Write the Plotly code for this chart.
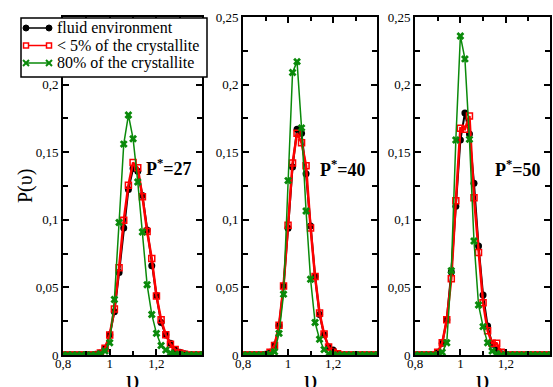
import plotly.graph_objects as go

# Speed grid (0.80 ... 1.40, step 0.02)
v = [round(0.80 + 0.02 * k, 2) for k in range(31)]

def series(pairs):
    d = dict(pairs)
    return [d.get(x, 0.0) for x in v]

# P* = 27
fluid_27 = series({0.94: 0.0005, 0.96: 0.0015, 0.98: 0.005, 1.00: 0.015, 1.02: 0.032, 1.04: 0.061,
                   1.06: 0.094, 1.08: 0.1225, 1.10: 0.138, 1.12: 0.136, 1.14: 0.118, 1.16: 0.0925,
                   1.18: 0.066, 1.20: 0.044, 1.22: 0.024, 1.24: 0.0148, 1.26: 0.0087, 1.28: 0.0037,
                   1.30: 0.002, 1.32: 0.001})
small_27 = series({0.96: 0.0015, 0.98: 0.005, 1.00: 0.0148, 1.02: 0.034, 1.04: 0.0646, 1.06: 0.0996,
                   1.08: 0.1256, 1.10: 0.1423, 1.12: 0.1385, 1.14: 0.117, 1.16: 0.0914, 1.18: 0.0713,
                   1.20: 0.0437, 1.22: 0.026, 1.24: 0.015, 1.26: 0.008, 1.28: 0.004, 1.30: 0.0015,
                   1.32: 0.0005})
large_27 = series({0.96: 0.001, 0.98: 0.003, 1.00: 0.009, 1.02: 0.041, 1.04: 0.098, 1.06: 0.156,
                   1.08: 0.1775, 1.10: 0.160, 1.12: 0.128, 1.14: 0.091, 1.16: 0.052, 1.18: 0.03,
                   1.20: 0.016, 1.22: 0.007, 1.24: 0.0037, 1.26: 0.0015, 1.28: 0.0005})

# P* = 40
fluid_40 = series({0.90: 0.0005, 0.92: 0.002, 0.94: 0.0074, 0.96: 0.0217, 0.98: 0.051, 1.00: 0.0937,
                   1.02: 0.139, 1.04: 0.167, 1.06: 0.164, 1.08: 0.134, 1.10: 0.0954, 1.12: 0.058,
                   1.14: 0.030, 1.16: 0.015, 1.18: 0.006, 1.20: 0.0037, 1.22: 0.001})
small_40 = series({0.92: 0.002, 0.94: 0.007, 0.96: 0.022, 0.98: 0.051, 1.00: 0.096, 1.02: 0.142,
                   1.04: 0.164, 1.06: 0.157, 1.08: 0.140, 1.10: 0.094, 1.12: 0.058, 1.14: 0.031,
                   1.16: 0.0155, 1.18: 0.006, 1.20: 0.002, 1.22: 0.001})
large_40 = series({0.92: 0.0005, 0.94: 0.0024, 0.96: 0.016, 0.98: 0.045, 1.00: 0.129, 1.02: 0.209,
                   1.04: 0.217, 1.06: 0.168, 1.08: 0.1065, 1.10: 0.056, 1.12: 0.024, 1.14: 0.0116,
                   1.16: 0.004, 1.18: 0.001})

# P* = 50
fluid_50 = series({0.90: 0.002, 0.92: 0.0086, 0.94: 0.026, 0.96: 0.0614, 0.98: 0.11, 1.00: 0.159,
                   1.02: 0.179, 1.04: 0.1635, 1.06: 0.127, 1.08: 0.0806, 1.10: 0.0444, 1.12: 0.0214,
                   1.14: 0.008, 1.16: 0.004, 1.18: 0.001})
small_50 = series({0.90: 0.002, 0.92: 0.009, 0.94: 0.026, 0.96: 0.0564, 0.98: 0.114, 1.00: 0.1677,
                   1.02: 0.167, 1.04: 0.1768, 1.06: 0.1164, 1.08: 0.0759, 1.10: 0.0387, 1.12: 0.018,
                   1.14: 0.0086, 1.16: 0.0086, 1.18: 0.002})
large_50 = series({0.92: 0.002, 0.94: 0.009, 0.96: 0.0624, 0.98: 0.159, 1.00: 0.236, 1.02: 0.219,
                   1.04: 0.1595, 1.06: 0.0843, 1.08: 0.037, 1.10: 0.021, 1.12: 0.009, 1.14: 0.003,
                   1.16: 0.001})

pressures = ["27", "40", "50"]
panels = [(fluid_27, small_27, large_27), (fluid_40, small_40, large_40), (fluid_50, small_50, large_50)]
names = ["fluid environment", "< 5% of the crystallite", "80% of the crystallite"]

x_ticks = [0.8, 1.0, 1.2]
x_ticktext = ["0,8", "1", "1,2"]
y_ticks = [0, 0.05, 0.1, 0.15, 0.2, 0.25]
y_ticktext = ["0", "0,05", "0,1", "0,15", "0,2", "0,25"]

W, H = 553, 387
SERIF = "Liberation Serif"
GREEN = "#0a8a0a"

def px(x):
    return x / W

def py(y):
    return 1 - y / H

styles = [
    dict(line=dict(color="black", width=2),
         marker=dict(symbol="circle", size=7, color="black")),
    dict(line=dict(color="red", width=2.5),
         marker=dict(symbol="square-open", size=6, color="red", line=dict(width=1.5, color="red"))),
    dict(line=dict(color=GREEN, width=1.5),
         marker=dict(symbol="x", size=7, color=GREEN, line=dict(width=0))),
]

x_domains_px = [(63, 202), (243, 377), (415, 550)]
y_domain = [py(355), py(17)]

fig = go.Figure()
for i, (series_set, p) in enumerate(zip(panels, pressures)):
    ax = "" if i == 0 else str(i + 1)
    for j, ys in enumerate(series_set):
        fig.add_trace(go.Scatter(
            x=v, y=ys, mode="lines+markers", name=names[j],
            xaxis="x" + ax, yaxis="y" + ax, showlegend=False, **styles[j]))

    # the top label of the first panel sits under the legend box
    ylabels = list(y_ticktext)
    if i == 0:
        ylabels[-1] = ""

    fig.layout["xaxis" + ax] = dict(
        range=[0.8, 1.395], tickvals=x_ticks, ticktext=x_ticktext,
        ticks="inside", ticklen=6, tickwidth=1.5, tickcolor="black",
        minor=dict(dtick=0.1, tick0=0.8, ticks="inside", ticklen=4,
                   tickwidth=1.5, tickcolor="black"),
        showline=True, linewidth=2, linecolor="black", mirror="allticks",
        showgrid=False, zeroline=False, automargin=False, ticklabelstandoff=-5,
        tickfont=dict(family=SERIF, size=13, color="black"),
        domain=[px(x_domains_px[i][0]), px(x_domains_px[i][1])],
        anchor="y" + ax)
    fig.layout["yaxis" + ax] = dict(
        range=[0, 0.25], tickvals=y_ticks, ticktext=ylabels,
        ticks="inside", ticklen=6, tickwidth=1.5, tickcolor="black",
        minor=dict(dtick=0.025, tick0=0, ticks="inside", ticklen=5,
                   tickwidth=1.5, tickcolor="black"),
        showline=True, linewidth=2, linecolor="black", mirror="allticks",
        showgrid=False, zeroline=False, automargin=False,
        tickfont=dict(family=SERIF, size=13, color="black"),
        domain=y_domain, anchor="x" + ax)

    cx = (x_domains_px[i][0] + x_domains_px[i][1]) / 2
    fig.add_annotation(text="υ", xref="paper", yref="paper", x=px(cx), y=py(380),
                       xanchor="center", yanchor="middle", showarrow=False,
                       font=dict(family=SERIF, size=27, color="black"))

label_pos = [(169, 167), (343, 168), (518, 168)]
for (lx, ly), p in zip(label_pos, pressures):
    fig.add_annotation(text="<b>P<sup>*</sup>=" + p + "</b>", xref="paper", yref="paper",
                       x=px(lx), y=py(ly), xanchor="center", yanchor="middle",
                       showarrow=False, font=dict(family=SERIF, size=18, color="black"))

fig.add_annotation(text="P(υ)", xref="paper", yref="paper", x=px(25), y=py(186),
                   textangle=-90, xanchor="center", yanchor="middle", showarrow=False,
                   font=dict(family=SERIF, size=20, color="black"))

# Legend box drawn above the first panel: frame, key glyphs and labels
shapes = [dict(type="rect", xref="paper", yref="paper", x0=px(21), x1=px(207),
               y0=py(77), y1=py(18), fillcolor="white",
               line=dict(color="black", width=1.5), layer="above")]
rows = [28, 45.5, 63]
kx0, kx1 = 26, 49
for j, ry in enumerate(rows):
    col = ["black", "red", GREEN][j]
    shapes.append(dict(type="line", xref="paper", yref="paper", x0=px(kx0), x1=px(kx1),
                       y0=py(ry), y1=py(ry), line=dict(color=col, width=1.5), layer="above"))
    for kx in (kx0, kx1):
        if j == 0:
            shapes.append(dict(type="circle", xref="paper", yref="paper",
                               x0=px(kx - 3), x1=px(kx + 3), y0=py(ry + 3), y1=py(ry - 3),
                               fillcolor="black", line=dict(color="black", width=1), layer="above"))
        elif j == 1:
            shapes.append(dict(type="rect", xref="paper", yref="paper",
                               x0=px(kx - 2.5), x1=px(kx + 2.5), y0=py(ry + 2.5), y1=py(ry - 2.5),
                               fillcolor="white", line=dict(color="red", width=1.5), layer="above"))
        else:
            for dy in (-1, 1):
                shapes.append(dict(type="line", xref="paper", yref="paper",
                                   x0=px(kx - 3), x1=px(kx + 3), y0=py(ry - 3 * dy), y1=py(ry + 3 * dy),
                                   line=dict(color=GREEN, width=2), layer="above"))
    fig.add_annotation(text=names[j], xref="paper", yref="paper", x=px(55), y=py(ry),
                       xanchor="left", yanchor="middle", showarrow=False,
                       font=dict(family=SERIF, size=16, color="black"))

fig.update_layout(
    width=W, height=H,
    margin=dict(l=0, r=0, t=0, b=0),
    paper_bgcolor="white", plot_bgcolor="white",
    showlegend=False,
    shapes=shapes,
)

fig.write_html("out.html")
